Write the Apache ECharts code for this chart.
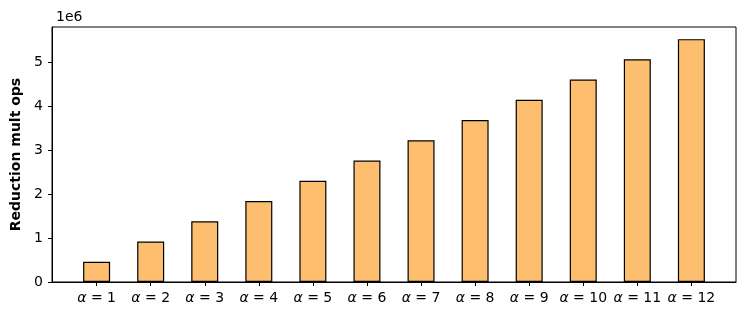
<!DOCTYPE html>
<html>
<head>
<meta charset="utf-8">
<script src="https://cdn.jsdelivr.net/npm/echarts@6/dist/echarts.min.js"></script>
<style>html,body{margin:0;padding:0;background:#fff}#c{width:747px;height:319px}</style>
</head>
<body>
<div id="c"></div>
<script>
const alphas = [1,2,3,4,5,6,7,8,9,10,11,12];
const values = [459700, 919400, 1379000, 1839000, 2298000, 2758000, 3218000, 3678000, 4137000, 4597000, 5057000, 5516000];
const yTicks = [0, 1000000, 2000000, 3000000, 4000000, 5000000];
const xTicks = alphas.map((a, i) => i);

const font = 'DejaVu Sans';
const fs = 14;
const chart = echarts.init(document.getElementById('c'), null, {renderer: 'canvas'});
chart.setOption({
  animation: false,
  title: {
    text: '1e6', left: 51, top: 5,
    textStyle: {fontFamily: font, fontSize: fs, fontWeight: 'normal', color: '#000'}
  },
  grid: {left: 52, right: 11, top: 27, bottom: 37, show: true, borderColor: '#000', borderWidth: 1, containLabel: false},
  xAxis: {
    type: 'value',
    min: -0.825, max: 11.825,
    splitLine: {show: false},
    axisLine: {show: true, onZero: false, lineStyle: {color: '#000', width: 1}},
    axisTick: {show: true, length: 4, customValues: xTicks, lineStyle: {color: '#000', width: 1}},
    axisLabel: {
      customValues: xTicks,
      margin: 9,
      fontFamily: font, fontSize: fs, color: '#000',
      formatter: v => '{i|α} = ' + alphas[Math.round(v)],
      rich: {i: {fontStyle: 'italic', fontFamily: font, fontSize: fs, color: '#000'}}
    }
  },
  yAxis: {
    type: 'value',
    min: 0, max: 5516000 * 1.05,
    name: 'Reduction mult ops',
    nameLocation: 'middle', nameGap: 29,
    nameTextStyle: {fontFamily: font, fontSize: fs, fontWeight: 'bold', color: '#000'},
    splitLine: {show: false},
    axisLine: {show: true, onZero: false, lineStyle: {color: '#000', width: 1}},
    axisTick: {show: true, length: 4, customValues: yTicks, lineStyle: {color: '#000', width: 1}},
    axisLabel: {
      customValues: yTicks,
      margin: 9,
      fontFamily: font, fontSize: fs, color: '#000',
      formatter: v => String(Math.round(v / 1000000))
    }
  },
  series: [{
    type: 'bar',
    data: values.map((v, i) => [i, v]),
    barWidth: 27,
    itemStyle: {color: '#FDBF6F', borderColor: '#000', borderWidth: 1.2}
  }]
});
</script>
</body>
</html>
